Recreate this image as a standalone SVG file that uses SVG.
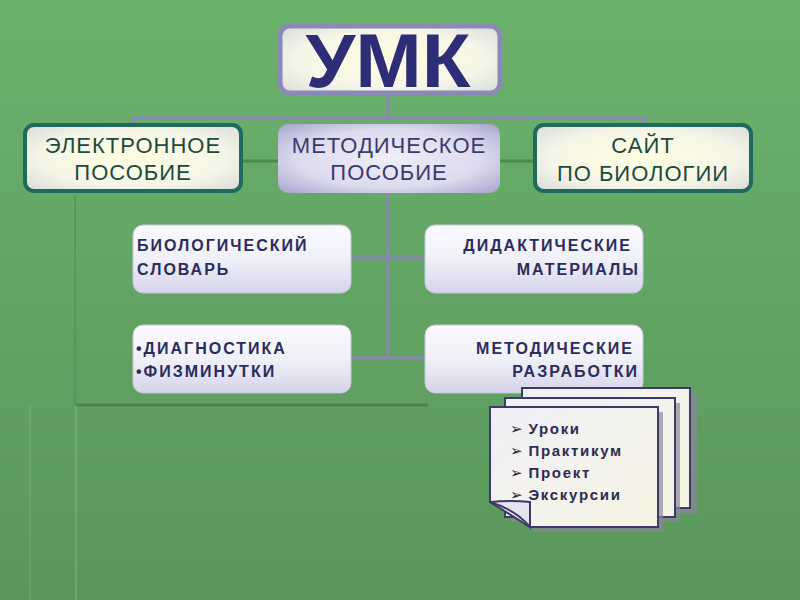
<svg xmlns="http://www.w3.org/2000/svg" width="800" height="600" viewBox="0 0 800 600">
<defs>
<linearGradient id="bg" x1="0" y1="0" x2="0" y2="1">
<stop offset="0" stop-color="#6bb26c"/>
<stop offset="1" stop-color="#5a965c"/>
</linearGradient>
<radialGradient id="yel" cx="0.5" cy="0.5" r="0.7">
<stop offset="0" stop-color="#fffde0"/>
<stop offset="0.6" stop-color="#f6f6e8"/>
<stop offset="1" stop-color="#d8dcd8"/>
</radialGradient>
<radialGradient id="lav" cx="0.5" cy="0.5" r="0.7">
<stop offset="0" stop-color="#f0eef8"/>
<stop offset="0.6" stop-color="#dcdaee"/>
<stop offset="1" stop-color="#a8a4cc"/>
</radialGradient>
<linearGradient id="box" x1="0" y1="0" x2="0" y2="1">
<stop offset="0" stop-color="#fafaff"/>
<stop offset="0.5" stop-color="#f0f0f8"/>
<stop offset="1" stop-color="#d6d4ea"/>
</linearGradient>
<linearGradient id="page" x1="0" y1="0" x2="1" y2="1">
<stop offset="0" stop-color="#f0f0f6"/>
<stop offset="1" stop-color="#f6f4e2"/>
</linearGradient>
<style>
.cap{font-family:"Liberation Sans",Arial,sans-serif;text-anchor:middle;font-size:22px;letter-spacing:1px}
.sm{font-family:"Liberation Sans",Arial,sans-serif;font-weight:bold;font-size:16px;fill:#2c2c5c;letter-spacing:2px}
.pg{font-family:"Liberation Sans",Arial,sans-serif;font-weight:bold;font-size:15px;fill:#2c2c50;letter-spacing:1.7px}
.bul{font-family:"DejaVu Sans",sans-serif;font-size:15px;font-weight:bold;letter-spacing:0;fill:#1c1c30}
.con{stroke:#8a86b6;stroke-width:3;fill:none}
.sub{fill:url(#box);stroke:#c8c6dc;stroke-width:1}
.paper{fill:url(#page);stroke:#3c3a68;stroke-width:2}
.shadow{fill:#8a8898;opacity:0.7}
</style>
</defs>
<rect width="800" height="600" fill="url(#bg)"/>
<g id="decor">
<line x1="75" y1="195" x2="75" y2="405" stroke="#4f8a52" stroke-width="2" opacity="0.5"/>
<line x1="75" y1="405" x2="428" y2="405" stroke="#4a824c" stroke-width="3"/>
<line x1="76" y1="405" x2="76" y2="600" stroke="#8cc08c" stroke-width="2" opacity="0.4"/>
<line x1="30" y1="405" x2="30" y2="600" stroke="#8cc08c" stroke-width="2" opacity="0.3"/>
</g>
<g id="connectors">
<line x1="240" y1="161" x2="535" y2="161" stroke="#4a8a50" stroke-width="3"/>
<polyline class="con" points="388,95 388,118"/>
<polyline class="con" points="133,128 133,118 645,118 645,128"/>
<polyline class="con" points="388,190 388,358"/>
<line class="con" x1="350" y1="258" x2="427" y2="258"/>
<line class="con" x1="350" y1="358" x2="427" y2="358"/>
</g>
<g id="umk">
<rect x="280" y="26" width="220" height="67" rx="10" fill="url(#yel)" stroke="#8c88b8" stroke-width="5"/>
<text x="388" y="87" font-family="'Liberation Sans',Arial,sans-serif" text-anchor="middle" font-size="76" font-weight="bold" fill="#2e2e78" textLength="165" lengthAdjust="spacingAndGlyphs">УМК</text>
</g>
<g id="electronic">
<rect x="25" y="125" width="216" height="66" rx="9" fill="url(#yel)" stroke="#1f6a5c" stroke-width="4"/>
<text class="cap" x="133" y="153" fill="#1c4a3c">ЭЛЕКТРОННОЕ</text>
<text class="cap" x="133" y="180" fill="#1c4a3c">ПОСОБИЕ</text>
</g>
<g id="method">
<rect x="278" y="124" width="222" height="69" rx="10" fill="url(#lav)"/>
<text class="cap" x="389" y="153" fill="#3a3a6a">МЕТОДИЧЕСКОЕ</text>
<text class="cap" x="389" y="180" fill="#3a3a6a">ПОСОБИЕ</text>
</g>
<g id="site">
<rect x="535" y="125" width="216" height="66" rx="9" fill="url(#yel)" stroke="#1f6a5c" stroke-width="4"/>
<text class="cap" x="643" y="153" fill="#1c4a3c">САЙТ</text>
<text class="cap" x="643" y="181" fill="#1c4a3c">ПО БИОЛОГИИ</text>
</g>
<g id="dictionary">
<rect class="sub" x="133" y="225" width="218" height="68" rx="10"/>
<text class="sm" x="137" y="251">БИОЛОГИЧЕСКИЙ</text>
<text class="sm" x="137" y="275">СЛОВАРЬ</text>
</g>
<g id="didactic">
<rect class="sub" x="425" y="225" width="218" height="68" rx="10"/>
<text class="sm" x="632" y="251" text-anchor="end">ДИДАКТИЧЕСКИЕ</text>
<text class="sm" x="640" y="275" text-anchor="end">МАТЕРИАЛЫ</text>
</g>
<g id="diagnostics">
<rect class="sub" x="133" y="325" width="218" height="68" rx="10"/>
<text class="sm" x="136" y="354">•ДИАГНОСТИКА</text>
<text class="sm" x="136" y="377">•ФИЗМИНУТКИ</text>
</g>
<g id="developments">
<rect class="sub" x="425" y="325" width="218" height="68" rx="10"/>
<text class="sm" x="634" y="354" text-anchor="end">МЕТОДИЧЕСКИЕ</text>
<text class="sm" x="639" y="377" text-anchor="end">РАЗРАБОТКИ</text>
</g>
<g id="pages">
<rect class="shadow" x="527" y="393" width="170" height="120"/>
<rect class="paper" x="522" y="388" width="168" height="120"/>
<rect class="shadow" x="510" y="403" width="170" height="119"/>
<rect class="paper" x="505" y="398" width="170" height="119"/>
<polygon class="shadow" points="495,412 663,412 663,532 535,532 530,527 658,527 658,407 490,407"/>
<polygon class="paper" points="490,407 658,407 658,527 530,527 490,502"/>
<path d="M490,502 Q512,500 530,502 L530,527 Q516,510 490,502 Z" fill="#e6e4ee" stroke="#3c3a68" stroke-width="2"/>
<text class="pg" x="510" y="434"><tspan class="bul">➢</tspan> Уроки</text>
<text class="pg" x="510" y="456"><tspan class="bul">➢</tspan> Практикум</text>
<text class="pg" x="510" y="478"><tspan class="bul">➢</tspan> Проект</text>
<text class="pg" x="510" y="500"><tspan class="bul">➢</tspan> Экскурсии</text>
</g>
</svg>
